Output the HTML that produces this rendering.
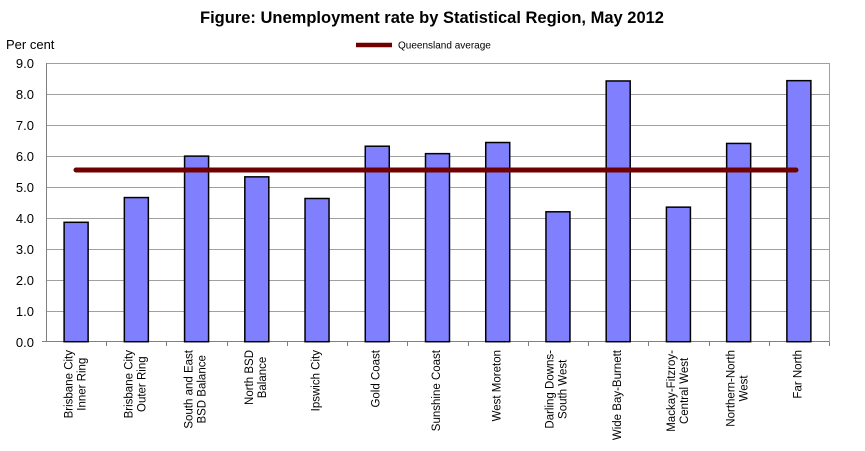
<!DOCTYPE html>
<html><head><meta charset="utf-8"><style>
body{margin:0;background:#fff;width:865px;height:451px;position:relative;overflow:hidden;font-family:"Liberation Sans",Arial,sans-serif;}
.lab{position:absolute;top:350px;width:0;height:0;}
.lab div{position:absolute;right:0;top:0;transform-origin:right top;transform:rotate(-90deg);white-space:nowrap;text-align:center;font-size:11.5px;line-height:13px;color:#000;}
</style></head><body>
<svg width="865" height="451" style="position:absolute;left:0;top:0" font-family="Liberation Sans, Arial, sans-serif">
<text x="432" y="23" text-anchor="middle" font-size="16.5" font-weight="bold">Figure: Unemployment rate by Statistical Region, May 2012</text>
<text x="6" y="49" font-size="13">Per cent</text>
<line x1="356" y1="45" x2="392" y2="45" stroke="#700000" stroke-width="4.5"/>
<text x="398" y="48.5" font-size="10">Queensland average</text>
<g stroke="#a0a0a0" stroke-width="1">
<line x1="46" x2="829" y1="63.5" y2="63.5"/>
<line x1="46" x2="829" y1="94.5" y2="94.5"/>
<line x1="46" x2="829" y1="125.5" y2="125.5"/>
<line x1="46" x2="829" y1="156.5" y2="156.5"/>
<line x1="46" x2="829" y1="187.5" y2="187.5"/>
<line x1="46" x2="829" y1="218.5" y2="218.5"/>
<line x1="46" x2="829" y1="249.5" y2="249.5"/>
<line x1="46" x2="829" y1="280.5" y2="280.5"/>
<line x1="46" x2="829" y1="311.5" y2="311.5"/>
<line x1="829.5" x2="829.5" y1="63" y2="345"/>
</g>
<g stroke="#808080"><line x1="46.5" y1="63" x2="46.5" y2="342"/><line x1="42" x2="829" y1="341.5" y2="341.5"/>
<g id="ticks"></g></g>
<g font-size="13" text-anchor="end">
<text x="34" y="68">9.0</text><text x="34" y="99">8.0</text><text x="34" y="130">7.0</text><text x="34" y="161">6.0</text><text x="34" y="192">5.0</text><text x="34" y="223">4.0</text><text x="34" y="254">3.0</text><text x="34" y="285">2.0</text><text x="34" y="316">1.0</text><text x="34" y="347">0.0</text>
</g>
<g id="bars" fill="#8080ff" stroke="#000" stroke-width="1.5"></g>
<line x1="76" y1="170" x2="796" y2="170" stroke="#700000" stroke-width="5" stroke-linecap="round"/>
</svg>
<div id="labs"></div>
<script>
(function(){
var vals=[3.86,4.66,6.0,5.33,4.63,6.32,6.08,6.44,4.2,8.43,4.35,6.41,8.44];
var labs=[["Brisbane City","Inner Ring"],["Brisbane City","Outer Ring"],["South and East","BSD Balance"],["North BSD","Balance"],["Ipswich City"],["Gold Coast"],["Sunshine Coast"],["West Moreton"],["Darling Downs-","South West"],["Wide Bay-Burnett"],["Mackay-Fitzroy-","Central West"],["Northern-North","West"],["Far North"]];
var ns="http://www.w3.org/2000/svg",b=document.getElementById("bars"),t=document.getElementById("ticks"),L=document.getElementById("labs");
var w=783/13;
for(var i=0;i<13;i++){
 var cx=46+w*(i+0.5),yt=341.7-vals[i]*30.93;
 var r=document.createElementNS(ns,"rect");r.setAttribute("x",cx-12);r.setAttribute("y",yt);r.setAttribute("width",24);r.setAttribute("height",341.7-yt);b.appendChild(r);
 var l=document.createElementNS(ns,"line");var tx=Math.round(46+w*(i+1))+0.5;l.setAttribute("x1",tx);l.setAttribute("x2",tx);l.setAttribute("y1",342);l.setAttribute("y2",346);t.appendChild(l);
 var d=document.createElement("div");d.className="lab";d.style.left=(cx-labs[i].length*6.5)+"px";d.innerHTML="<div>"+labs[i].join("<br>")+"</div>";L.appendChild(d);
}
})();
</script>
</body></html>
